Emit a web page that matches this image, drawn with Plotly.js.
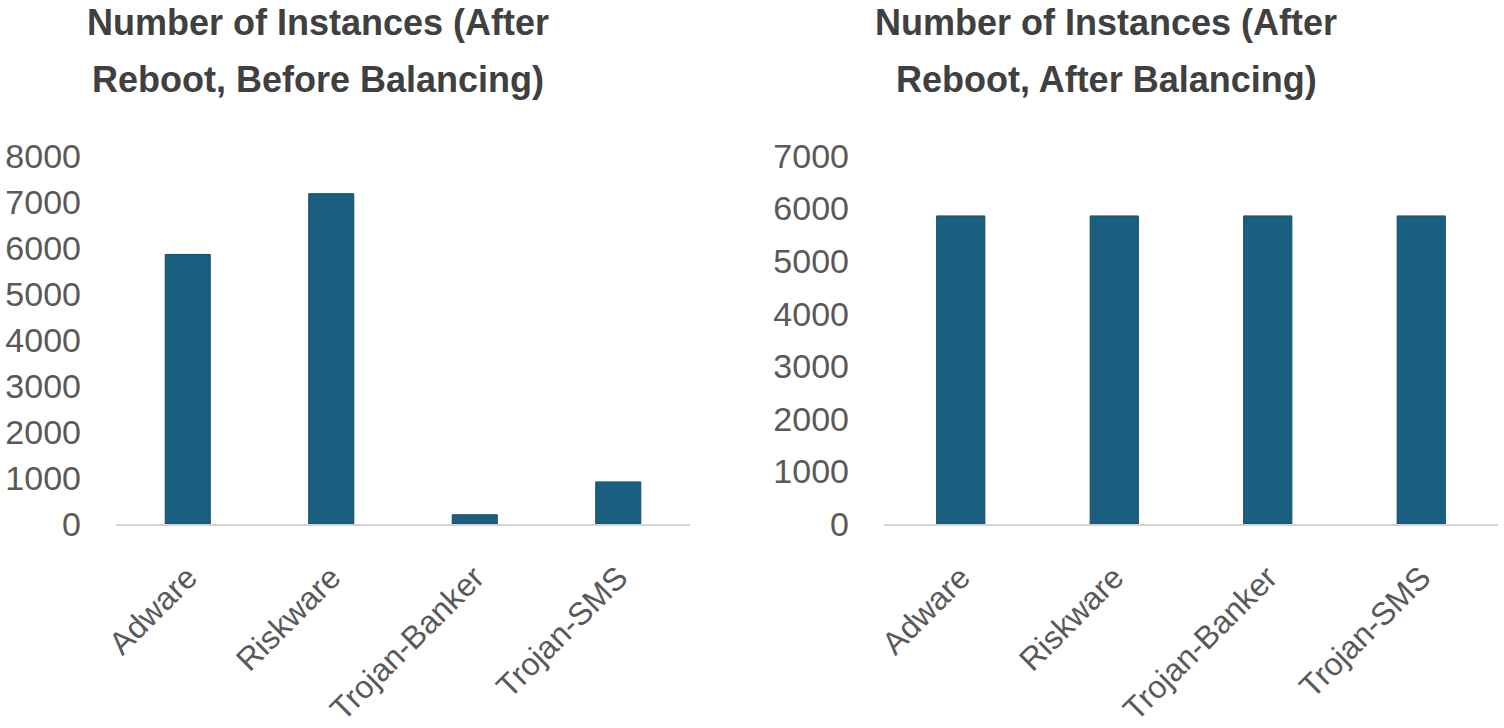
<!DOCTYPE html>
<html>
<head>
<meta charset="utf-8">
<script src="https://cdn.plot.ly/plotly-3.0.1.min.js"></script>
<style>html,body{margin:0;padding:0;background:#fff;}#chart{width:1504px;height:728px;}</style>
</head>
<body>
<div id="chart"></div>
<script>
const categories = ["Adware", "Riskware", "Trojan-Banker", "Trojan-SMS"];
const beforeBalancing = [5860, 7180, 200, 915];
const afterBalancing = [5860, 5860, 5860, 5860];
const titleLeftLines = ["Number of Instances (After", "Reboot, Before Balancing)"];
const titleRightLines = ["Number of Instances (After", "Reboot, After Balancing)"];

const barColor = "#1b5f80";
const edgeColor = "#124c6b";
const tickFont = {family: "Liberation Sans, Arial, sans-serif", size: 34, color: "#595959"};
const xTickFont = {family: "Liberation Sans, Arial, sans-serif", size: 32, color: "#595959"};
const titleFont = {family: "Liberation Sans, Arial, sans-serif", size: 36, color: "#404040", weight: "bold"};

const traces = [
  {type: "bar", x: categories, y: beforeBalancing, xaxis: "x", yaxis: "y",
   marker: {color: barColor, line: {color: edgeColor, width: 1}}, hoverinfo: "x+y"},
  {type: "bar", x: categories, y: afterBalancing, xaxis: "x2", yaxis: "y2",
   marker: {color: barColor, line: {color: edgeColor, width: 1}}, hoverinfo: "x+y"}
];

const yDom = [(728 - 524) / 728, (728 - 156) / 728];
function xax(dom, anchor) {
  return {domain: dom, anchor: anchor, showline: true, linecolor: "#d4d4d4", linewidth: 2,
    showgrid: false, zeroline: false, tickangle: -45, tickfont: xTickFont,
    ticks: "", ticklabelstandoff: 20, fixedrange: true};
}
function yax(dom, range, anchor) {
  return {domain: dom, anchor: anchor, range: range, dtick: 1000, showline: false,
    showgrid: false, zeroline: false, tickfont: tickFont, ticks: "",
    ticklabelstandoff: 34, fixedrange: true};
}

function titleAnn(lines, cx) {
  return lines.map((t, i) => ({
    text: t, xref: "paper", yref: "paper", x: cx / 1504,
    y: 1 - (i === 0 ? 0 : 57) / 728, xanchor: "center", yanchor: "top",
    showarrow: false, font: titleFont
  }));
}

const layout = {
  width: 1504, height: 728,
  margin: {l: 0, r: 0, t: 0, b: 0},
  paper_bgcolor: "#ffffff", plot_bgcolor: "#ffffff",
  showlegend: false, bargap: 0.686,
  xaxis: xax([116 / 1504, 690 / 1504], "y"),
  yaxis: yax(yDom, [0, 8000], "x"),
  xaxis2: xax([884 / 1504, 1498 / 1504], "y2"),
  yaxis2: yax(yDom, [0, 7000], "x2"),
  annotations: titleAnn(titleLeftLines, 318).concat(titleAnn(titleRightLines, 1106))
};

Plotly.newPlot("chart", traces, layout, {displayModeBar: false, staticPlot: true});
</script>
</body>
</html>
